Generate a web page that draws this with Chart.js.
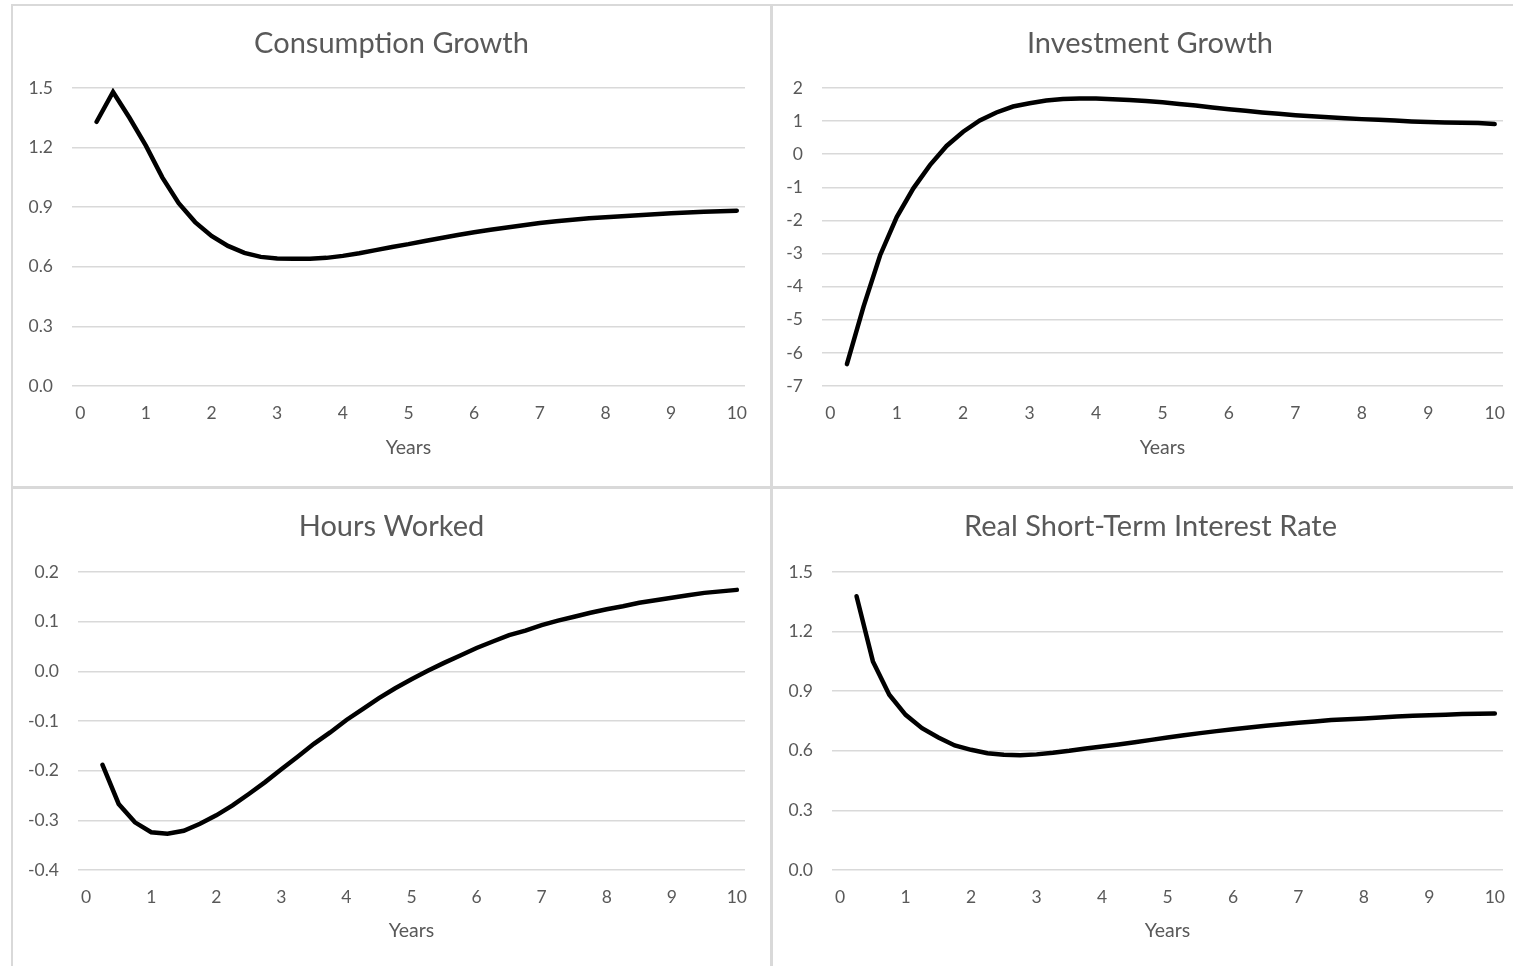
<!DOCTYPE html>
<html>
<head>
<meta charset="utf-8">
<script src="https://cdn.jsdelivr.net/npm/chart.js@4.4.1/dist/chart.umd.min.js"></script>
<style>
html,body{margin:0;padding:0;background:#fff;}
body{width:1513px;height:966px;position:relative;overflow:hidden;}
.line{position:absolute;background:#d9d9d9;}
.panel{position:absolute;}
</style>
</head>
<body>
<div class="line" style="left:11px;top:4px;width:1502px;height:2px;"></div>
<div class="line" style="left:11px;top:4px;width:2px;height:962px;"></div>
<div class="line" style="left:770px;top:4px;width:3px;height:962px;"></div>
<div class="line" style="left:11px;top:486px;width:1502px;height:3px;"></div>

<div class="panel" style="left:13px;top:6px;width:757px;height:480px;"><canvas id="c1"></canvas></div>
<div class="panel" style="left:773px;top:6px;width:740px;height:480px;"><canvas id="c2"></canvas></div>
<div class="panel" style="left:13px;top:489px;width:757px;height:477px;"><canvas id="c3"></canvas></div>
<div class="panel" style="left:773px;top:489px;width:740px;height:477px;"><canvas id="c4"></canvas></div>

<script>
// ---- Data ----
const years = [0.25,0.5,0.75,1,1.25,1.5,1.75,2,2.25,2.5,2.75,3,3.25,3.5,3.75,4,4.25,4.5,4.75,5,
               5.25,5.5,5.75,6,6.25,6.5,6.75,7,7.25,7.5,7.75,8,8.25,8.5,8.75,9,9.25,9.5,9.75,10];
const xTickLabels = [0,1,2,3,4,5,6,7,8,9,10];

const consumptionGrowth = [1.33,1.48,1.35,1.21,1.05,0.92,0.825,0.755,0.705,0.67,0.65,0.642,0.64,0.64,0.645,0.655,
  0.668,0.684,0.70,0.714,0.73,0.745,0.76,0.774,0.786,0.798,0.809,0.82,0.829,0.837,0.844,0.85,0.855,0.86,0.865,
  0.869,0.873,0.877,0.88,0.882];
const investmentGrowth = [-6.34,-4.60,-3.05,-1.90,-1.03,-0.33,0.25,0.68,1.02,1.26,1.44,1.54,1.62,1.67,1.68,1.68,
  1.66,1.64,1.61,1.57,1.52,1.47,1.41,1.36,1.31,1.26,1.22,1.18,1.15,1.12,1.09,1.06,1.04,1.02,0.99,0.97,0.96,0.95,0.94,0.91];
const hoursWorked = [-0.188,-0.267,-0.304,-0.324,-0.327,-0.321,-0.307,-0.29,-0.27,-0.247,-0.223,-0.197,-0.172,-0.146,
  -0.123,-0.098,-0.076,-0.054,-0.034,-0.016,0.001,0.017,0.032,0.047,0.060,0.073,0.082,0.093,0.102,0.11,0.118,0.125,
  0.131,0.138,0.143,0.148,0.153,0.158,0.161,0.164];
const realInterestRate = [1.378,1.05,0.882,0.781,0.714,0.667,0.627,0.605,0.588,0.58,0.578,0.582,0.59,0.6,0.612,0.622,
  0.632,0.643,0.655,0.667,0.678,0.689,0.699,0.708,0.717,0.726,0.734,0.741,0.748,0.755,0.759,0.763,0.768,0.773,
  0.776,0.779,0.782,0.785,0.787,0.788];

const titles = ["Consumption Growth","Investment Growth","Hours Worked","Real Short-Term Interest Rate"];
const xTitle = "Years";

// ---- Styling ----
const FONT = "Lato, 'Open Sans', sans-serif";
const TXT = "#595959";
const GRID = "#d9d9d9";

// centre the chart title on the whole panel (Excel style), not on the padded layout box
const centerTitle = {
  id: 'centerTitle',
  afterLayout(chart, args, opts) {
    const tb = chart.titleBlock;
    if (tb && opts.center != null) { tb.left = 0; tb.right = 2 * opts.center; }
  }
};

function makeChart(id, title, values, y, lay) {
  const pts = years.map((x, i) => ({x: x, y: values[i]}));
  return new Chart(document.getElementById(id), {
    type: 'line',
    plugins: [centerTitle],
    data: { datasets: [{ data: pts, borderColor: '#000', borderWidth: 4.5, pointRadius: 0,
      tension: 0, borderCapStyle: 'round', borderJoinStyle: 'miter', fill: false }] },
    options: {
      responsive: true, maintainAspectRatio: false, animation: false,
      layout: { padding: { left: 0, right: lay.padRight, top: 0, bottom: 0 } },
      plugins: {
        centerTitle: { center: lay.titleCenter },
        legend: { display: false }, tooltip: { enabled: false },
        title: { display: true, text: title, color: TXT,
          font: { family: FONT, size: 29, weight: 'normal' },
          padding: { top: lay.titleTop, bottom: lay.titleBottom } }
      },
      scales: {
        x: {
          type: 'linear', min: -0.125, max: 10.125,
          afterBuildTicks: s => { s.ticks = xTickLabels.map(v => ({ value: v })); },
          afterFit: s => { s.height = lay.xHeight; s.paddingLeft = 0; s.paddingRight = 0; },
          grid: { display: false, drawTicks: false },
          border: { display: false },
          ticks: { color: TXT, font: { family: FONT, size: 17.5 }, padding: 17, maxRotation: 0, autoSkip: false },
          title: { display: true, text: xTitle, color: TXT, font: { family: FONT, size: 19.5 },
            padding: { top: 0, bottom: lay.xTitleBottom } }
        },
        y: {
          min: y.min, max: y.max,
          afterBuildTicks: s => { s.ticks = y.ticks.map(v => ({ value: v })); },
          afterFit: s => { s.width = lay.yWidth; s.paddingTop = 0; s.paddingBottom = 0; },
          grid: { color: GRID, lineWidth: 1.5, drawTicks: false },
          border: { display: false },
          ticks: { color: TXT, font: { family: FONT, size: 17.5 }, padding: 19,
            callback: v => v.toFixed(y.dec) }
        }
      }
    }
  });
}

const yTicksC = [0, 0.3, 0.6, 0.9, 1.2, 1.5];
const yTicksI = [-7, -6, -5, -4, -3, -2, -1, 0, 1, 2];
const yTicksH = [-0.4, -0.3, -0.2, -0.1, 0, 0.1, 0.2];
const yTicksR = [0, 0.3, 0.6, 0.9, 1.2, 1.5];

makeChart('c1', titles[0], consumptionGrowth, { min: 0, max: 1.5, ticks: yTicksC, dec: 1 },
  { titleCenter: 378.5, padRight: 25, yWidth: 59, xHeight: 100, xTitleBottom: 26.8, titleTop: 20.6, titleBottom: 26.6 });
makeChart('c2', titles[1], investmentGrowth, { min: -7, max: 2, ticks: yTicksI, dec: 0 },
  { titleCenter: 377, padRight: 10, yWidth: 49, xHeight: 100, xTitleBottom: 26.8, titleTop: 20.6, titleBottom: 26.6 });
makeChart('c3', titles[2], hoursWorked, { min: -0.4, max: 0.2, ticks: yTicksH, dec: 1 },
  { titleCenter: 378.5, padRight: 25, yWidth: 65, xHeight: 96, xTitleBottom: 23.8, titleTop: 20.6, titleBottom: 27.6 });
makeChart('c4', titles[3], realInterestRate, { min: 0, max: 1.5, ticks: yTicksR, dec: 1 },
  { titleCenter: 377.5, padRight: 10, yWidth: 59, xHeight: 96, xTitleBottom: 23.8, titleTop: 20.6, titleBottom: 27.6 });
</script>
</body>
</html>
